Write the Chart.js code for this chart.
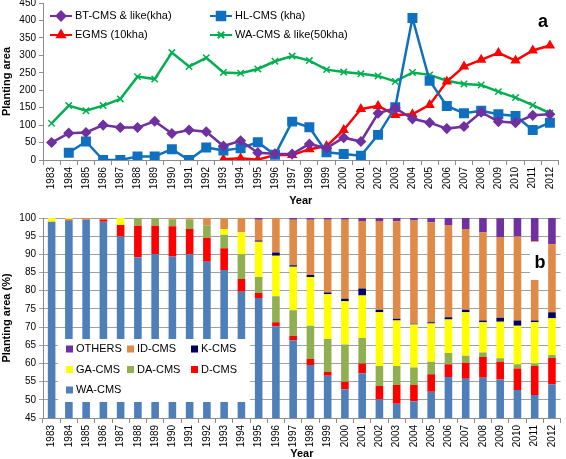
<!DOCTYPE html>
<html>
<head>
<meta charset="utf-8">
<script src="https://cdn.jsdelivr.net/npm/chart.js@4/dist/chart.umd.min.js"></script>
<style>
    html, body { margin: 0; padding: 0; background: #fff; }
    body { width: 566px; height: 459px; position: relative; overflow: hidden; }
    #topBox { position: absolute; left: 0; top: -6px; width: 566px; height: 214px; }
    #bottomBox { position: absolute; left: 0; top: 209px; width: 566px; height: 254px; }
</style>
</head>
<body>
<div id="topBox"><canvas id="areaChart"></canvas></div>
<div id="bottomBox"><canvas id="shareChart"></canvas></div>
<script>
// 年
const years = [];
for (let y = 1983; y <= 2012; y++) years.push(String(y));

// (a) 面積の推移
const btCms = [50, 77, 79, 100, 93, 93, 111, 76, 86, 81, 40, 55, 21, 18, 17, 46, 34, 64, 53, 134,
    149, 118, 107, 90, 96, 137, 110, 107, 128, 131];
const hlCms = [null, 21, 53, 0, 0, 10, 10, 31, 0, 36, 27, 34, 51, 15, 110, 94, 22, 17, 12, 72,
    151, 407, 227, 155, 134, 141, 131, 126, 86, 107];
const egms = [null, null, null, null, null, null, null, null, null, null, 2, 5, 1, 14, 14, 31, 40, 86, 146, 155,
    129, 131, 158, 225, 268, 287, 307, 285, 314, 328];
const waCms = [105, 156, 141, 156, 175, 239, 232, 308, 268, 293, 251, 249, 261, 283, 298, 285, 259, 252, 247, 241,
    225, 251, 244, 227, 218, 215, 196, 179, 157, 134];

// (b) 面積の割合 (%)
const waShare = [99, 99.3, 99.5, 99, 94.9, 89.2, 90.1, 89.4, 90, 88, 85.7, 79.7, 78, 70.2, 66.3, 59.6, 56.6, 52.9, 57.3, 50.1,
    48.9, 49.6, 52.2, 56.3, 55.8, 56.1, 55.6, 52.7, 51.3, 54.3];
const dShare = [0, 0.3, 0.1, 0.6, 3.2, 8.7, 7.8, 8.3, 7, 6.6, 6, 3.5, 1.4, 1.1, 1.3, 1.6, 1.1, 2.1, 2.7, 3.7,
    5.2, 4.5, 4.8, 3.5, 4.4, 5.7, 4.9, 5.9, 8, 7.2];
const daShare = [0, 0, 0, 0, 0, 2.1, 2.1, 1.8, 2.5, 3.4, 3.7, 6.8, 4.4, 7.2, 7, 9.2, 9, 10.2, 7, 5.5,
    5.2, 4.8, 3.5, 3.1, 1.9, 1.2, 0.9, 1.2, 0.7, 0.8];
const gaShare = [1, 0.4, 0, 0, 1.9, 0, 0, 0, 0, 0, 1.6, 6.1, 9.7, 11.1, 12, 13.4, 12.3, 11.9, 11.7, 14.8,
    12.5, 11.8, 10.5, 9.2, 12, 8.3, 10.1, 10.6, 11.3, 10.1];
const kShare = [0, 0, 0, 0, 0, 0, 0, 0, 0, 0, 0, 0, 0.3, 0.9, 0.4, 0.5, 0.5, 0.7, 1.9, 0.7,
    0.5, 0.2, 0.3, 0.6, 0.7, 0.5, 1.1, 1.4, 0.5, 1.7];
const idShare = [0, 0, 0.4, 0.4, 0, 0, 0, 0.5, 0.5, 2, 3, 3.9, 5.7, 9.5, 12.5, 15.2, 20, 21.7, 18.6, 24.4,
    26.8, 28.4, 27.5, 25.4, 22.2, 24.2, 22.2, 23.1, 21.8, 18.7];
const othersShare = [0, 0, 0, 0, 0, 0, 0, 0, 0, 0, 0, 0, 0.5, 0, 0.5, 0.5, 0.5, 0.5, 0.8, 0.8,
    0.9, 0.7, 1.2, 1.9, 3, 4, 5.1, 5.1, 6.5, 7.2];

const FONT = '"Liberation Sans", Arial, sans-serif';
Chart.defaults.font.family = FONT;
Chart.defaults.color = '#000';
Chart.defaults.animation = false;

// 折れ線の凡例（プロット内）
const lineLegend = {
    id: 'lineLegend',
    afterDraw(chart) {
        const ctx = chart.ctx;
        const a = chart.chartArea;
        chart.data.datasets.forEach((ds, i) => {
            const x = a.left + 7 + (i % 2) * 160;
            const y = a.top + 13 + Math.floor(i / 2) * 19;
            ctx.save();
            ctx.strokeStyle = ds.borderColor;
            ctx.lineWidth = 2;
            ctx.beginPath();
            ctx.moveTo(x, y);
            ctx.lineTo(x + 22, y);
            ctx.stroke();
            ctx.fillStyle = ds.pointBackgroundColor;
            Chart.helpers.drawPoint(ctx, {
                pointStyle: ds.pointStyle, radius: ds.pointRadius, rotation: 0, borderWidth: 1.5
            }, x + 11, y);
            ctx.fillStyle = '#000';
            ctx.font = '11px ' + FONT;
            ctx.textBaseline = 'middle';
            ctx.fillText(ds.label, x + 25, y);
            ctx.restore();
        });
        ctx.save();
        ctx.fillStyle = '#000';
        ctx.font = 'bold 18px ' + FONT;
        ctx.textAlign = 'center';
        ctx.textBaseline = 'middle';
        ctx.fillText('a', 543, 28);
        ctx.restore();
    }
};

// 積み上げ棒の凡例（白い箱）
const barLegend = {
    id: 'barLegend',
    afterDatasetsDraw(chart) {
        const ctx = chart.ctx;
        const items = chart.data.datasets.slice().reverse();
        const colX = [66, 127, 191];
        ctx.save();
        ctx.fillStyle = '#fff';
        ctx.fillRect(58, 130, 192, 63);
        ctx.fillRect(530, 33, 18, 38);
        items.forEach((ds, i) => {
            const x = colX[i % 3];
            const y = 140 + Math.floor(i / 3) * 20.5;
            ctx.fillStyle = ds.backgroundColor;
            ctx.fillRect(x, y - 3.5, 7, 7);
            ctx.fillStyle = '#000';
            ctx.font = '11px ' + FONT;
            ctx.textBaseline = 'middle';
            ctx.fillText(ds.label, x + 10, y);
        });
        ctx.font = 'bold 18px ' + FONT;
        ctx.textAlign = 'center';
        ctx.fillText('b', 540, 54);
        ctx.restore();
    }
};

const axisColor = '#8c8c8c';

function drawAreaChart() {
    const ctx = document.getElementById('areaChart').getContext('2d');
    const mk = (label, data, color, style, r) => ({
        label: label,
        data: data,
        borderColor: color,
        backgroundColor: color,
        pointBackgroundColor: color,
        pointBorderColor: color,
        pointStyle: style,
        pointRadius: r,
        pointBorderWidth: 1.5,
        borderWidth: 2.5,
        fill: false,
        tension: 0,
        spanGaps: false
    });
    new Chart(ctx, {
        type: 'line',
        data: {
            labels: years,
            datasets: [
                mk('BT-CMS & like(kha)', btCms, '#7030a0', 'rectRot', 4.5),
                mk('HL-CMS (kha)', hlCms, '#1070c0', 'rect', 6),
                mk('EGMS (10kha)', egms, '#ff0000', 'triangle', 4.5),
                mk('WA-CMS & like(50kha)', waCms, '#00b050', 'crossRot', 4.5)
            ]
        },
        options: {
            responsive: true,
            maintainAspectRatio: false,
            layout: { padding: { left: 0, right: 0, top: 0, bottom: 0 } },
            plugins: { legend: { display: false }, tooltip: { enabled: false } },
            scales: {
                x: {
                    offset: true,
                    grid: { offset: true, drawOnChartArea: false, tickLength: 5, color: axisColor },
                    border: { color: axisColor },
                    ticks: { minRotation: 90, maxRotation: 90, font: { size: 10 }, color: '#000', padding: 2 },
                    title: { display: true, text: 'Year', font: { size: 11, weight: 'bold' }, padding: { top: 2, bottom: 0 } },
                    afterFit: (s) => { s.height = 48; }
                },
                y: {
                    min: 0,
                    max: 450,
                    ticks: { stepSize: 50, font: { size: 10 }, color: '#000', padding: 3 },
                    grid: { drawOnChartArea: false, tickLength: 4, color: axisColor },
                    border: { color: axisColor },
                    title: { display: true, text: 'Planting area', font: { size: 11, weight: 'bold' }, padding: 0 },
                    afterFit: (s) => { s.width = 43; }
                }
            }
        },
        plugins: [lineLegend]
    });
}

function drawShareChart() {
    const ctx = document.getElementById('shareChart').getContext('2d');
    const mk = (label, data, color) => ({
        label: label,
        data: data,
        backgroundColor: color,
        borderWidth: 0,
        barPercentage: 0.44,
        categoryPercentage: 1
    });
    new Chart(ctx, {
        type: 'bar',
        data: {
            labels: years,
            datasets: [
                mk('WA-CMS', waShare, '#4f7fb8'),
                mk('D-CMS', dShare, '#ff0000'),
                mk('DA-CMS', daShare, '#8faf50'),
                mk('GA-CMS', gaShare, '#ffff00'),
                mk('K-CMS', kShare, '#000060'),
                mk('ID-CMS', idShare, '#e08a48'),
                mk('OTHERS', othersShare, '#7030a0')
            ]
        },
        options: {
            responsive: true,
            maintainAspectRatio: false,
            layout: { padding: { left: 0, right: 3, top: 7, bottom: 2 } },
            plugins: { legend: { display: false }, tooltip: { enabled: false } },
            scales: {
                x: {
                    stacked: true,
                    grid: { offset: true, drawOnChartArea: false, tickLength: 5, color: axisColor },
                    border: { color: axisColor },
                    ticks: { minRotation: 90, maxRotation: 90, font: { size: 10 }, color: '#000', padding: 2 },
                    title: { display: true, text: 'Year', font: { size: 11, weight: 'bold' }, padding: { top: 2, bottom: 0 } },
                    afterFit: (s) => { s.height = 43; }
                },
                y: {
                    stacked: true,
                    min: 45,
                    max: 100,
                    ticks: { stepSize: 5, font: { size: 10 }, color: '#000', padding: 3 },
                    grid: { color: '#a0a0a0', tickLength: 4, lineWidth: 1 },
                    border: { color: axisColor },
                    title: { display: true, text: 'Planting area (%)', font: { size: 11, weight: 'bold' }, padding: 0 },
                    afterFit: (s) => { s.width = 43; }
                }
            }
        },
        plugins: [barLegend]
    });
}

document.addEventListener('DOMContentLoaded', () => {
    drawAreaChart();
    drawShareChart();
});
</script>
</body>
</html>
